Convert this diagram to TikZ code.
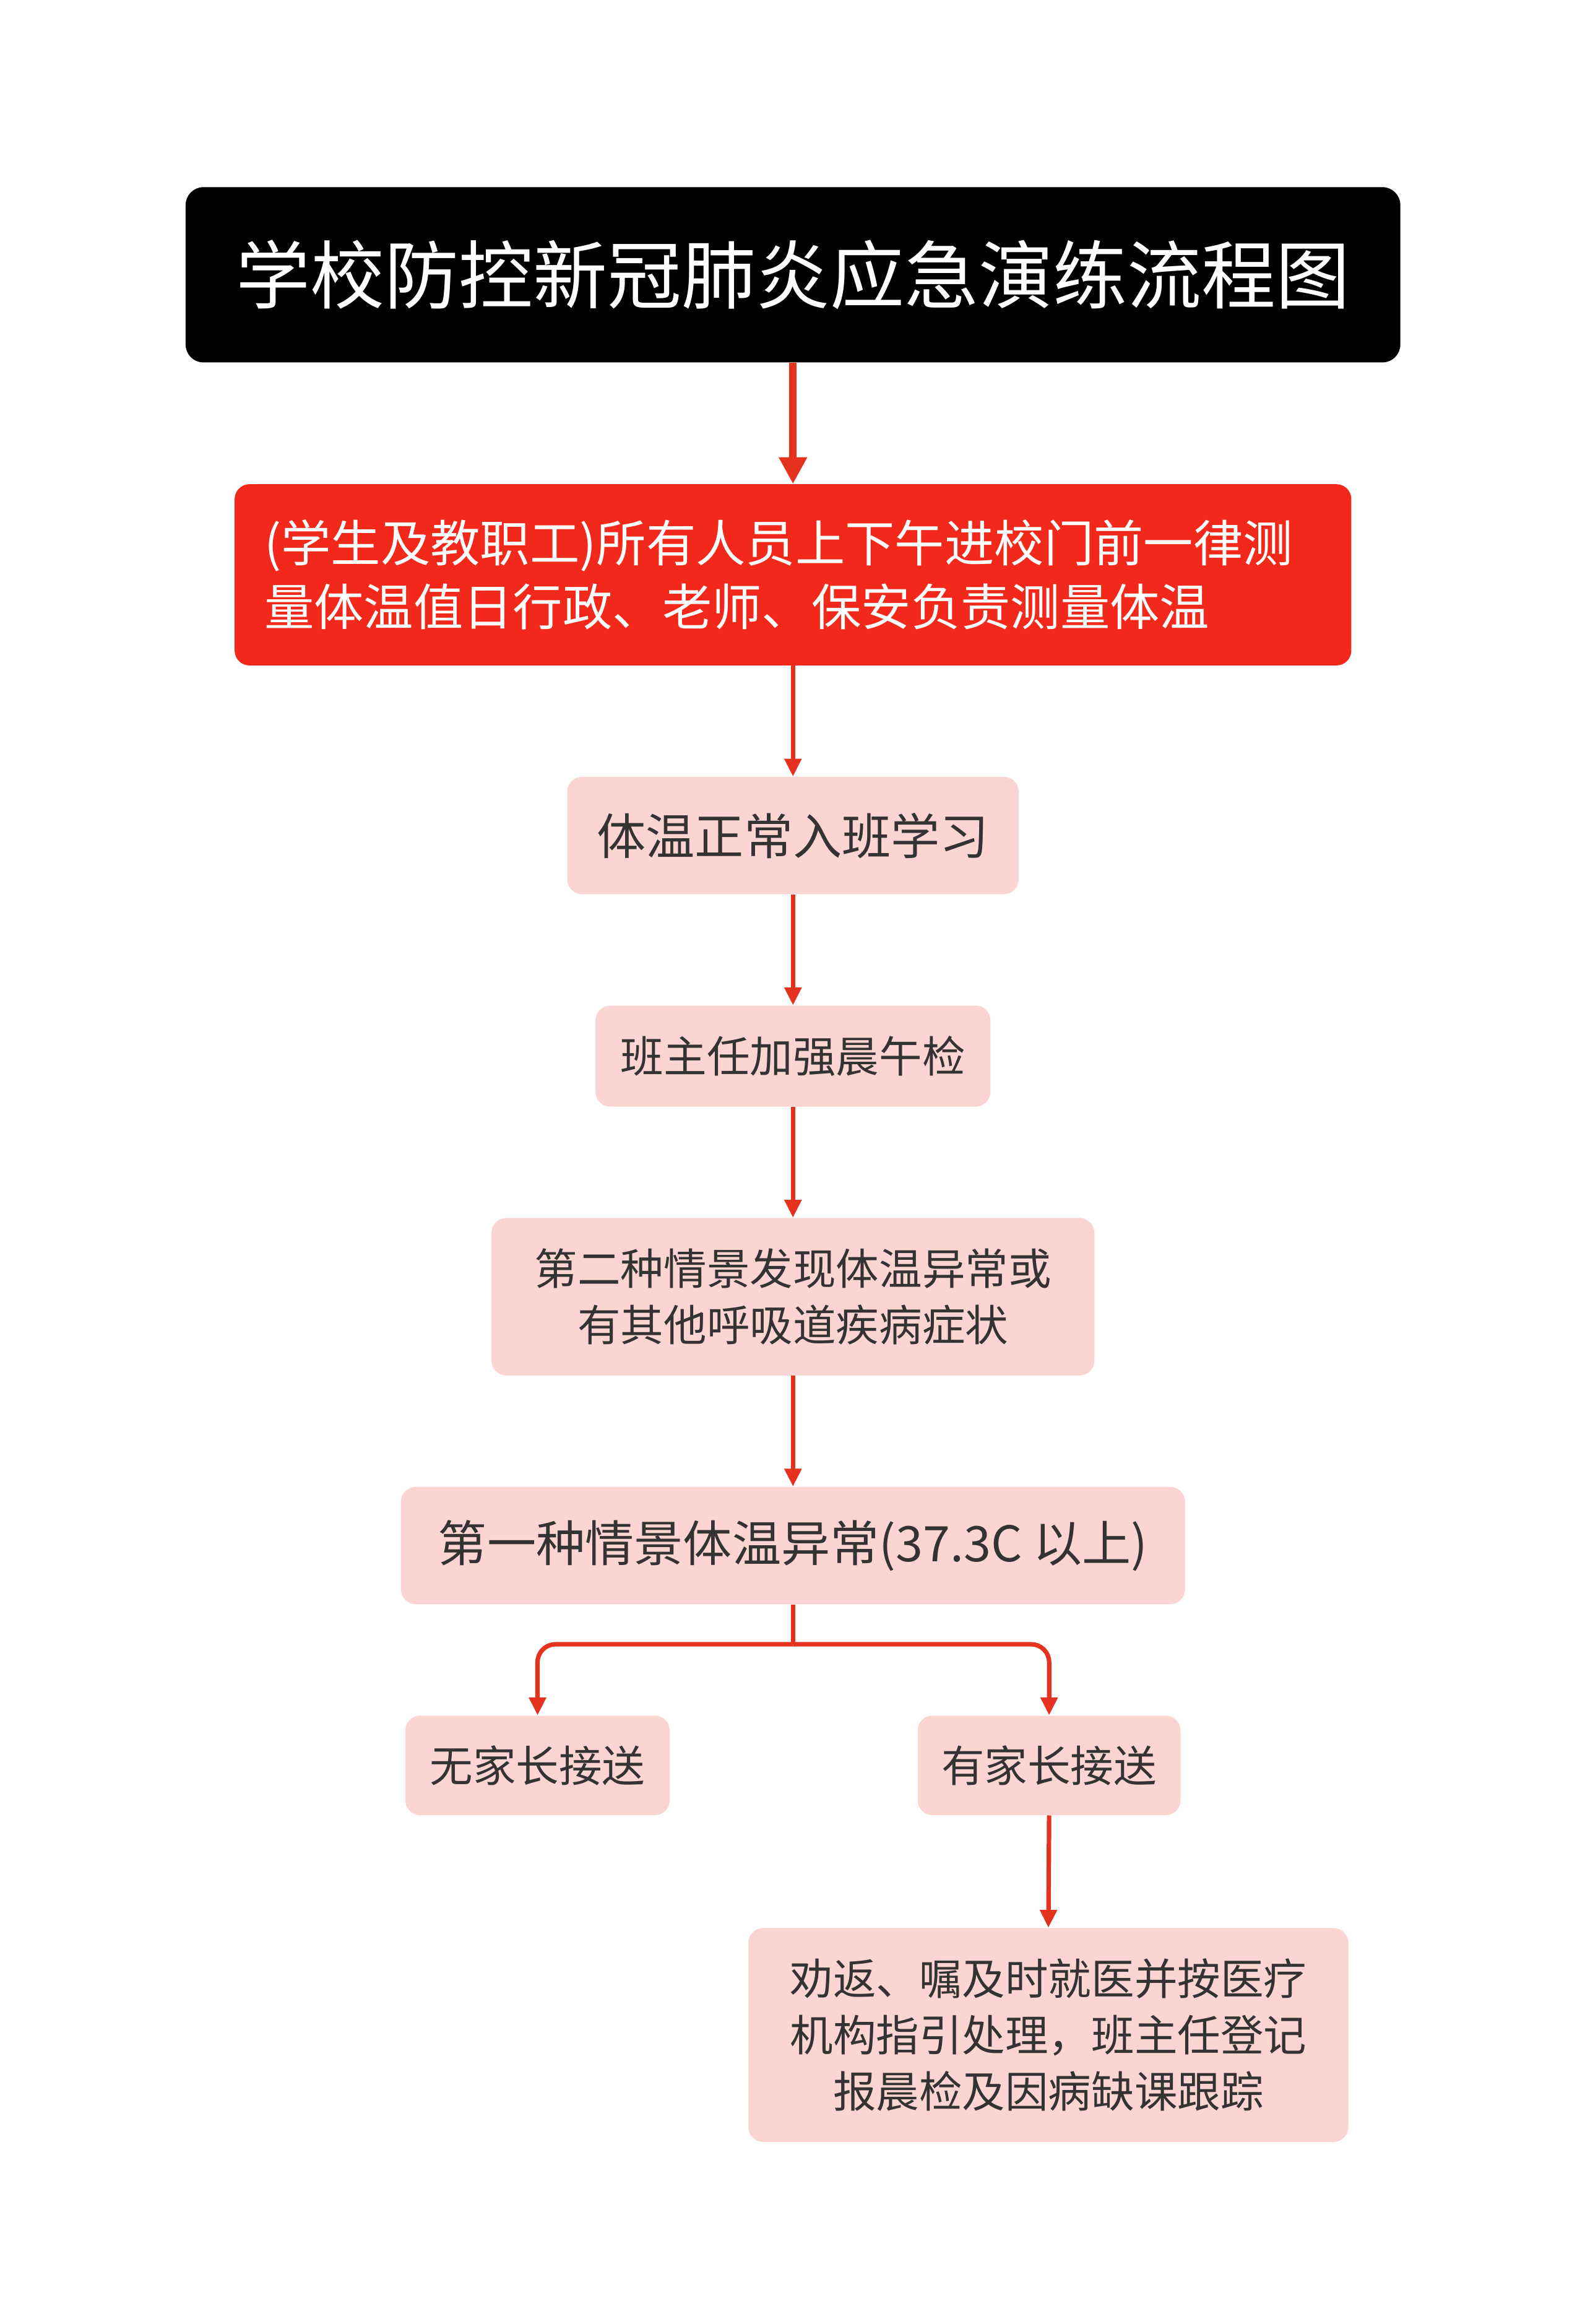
\documentclass[tikz,border=0pt]{standalone}
\usepackage{fontspec}
\setmainfont{Noto Sans CJK SC}
\usetikzlibrary{arrows.meta}
\definecolor{arr}{HTML}{E5321F}
\definecolor{pinkb}{HTML}{FCD4D1}
\definecolor{redb}{HTML}{F2291A}
\definecolor{txt}{HTML}{333333}
\tikzset{
  pbox/.style={fill=pinkb,rounded corners=10pt,text=txt,align=center,inner sep=0pt},
  conn/.style={draw=arr,line width=3pt,-{Triangle[length=12pt,width=11pt]}},
}
\begin{document}
\begin{tikzpicture}[x=1pt,y=-1pt]
\useasboundingbox[fill=white] (0,0) rectangle (1067,1564.6);
\node[fill=black,rounded corners=12pt,minimum width=818pt,minimum height=118pt,text=white,font=\fontsize{50}{56}\selectfont] (t) at (534,185) {学校防控新冠肺炎应急演练流程图};
\node[fill=redb,rounded corners=10pt,minimum width=752pt,minimum height=122pt,text=white,align=left,text width=712pt,font=\fontsize{33.5}{43}\selectfont] (r) at (534,387) {(学生及教职工)所有人员上下午进校门前一律测\\量体温值日行政、老师、保安负责测量体温};
\node[pbox,minimum width=304pt,minimum height=79pt,font=\fontsize{33}{40}\selectfont] (b1) at (534,562.5) {体温正常入班学习};
\node[pbox,minimum width=266pt,minimum height=68pt,font=\fontsize{29}{36}\selectfont] (b2) at (534,711) {班主任加强晨午检};
\node[pbox,minimum width=406pt,minimum height=106pt,font=\fontsize{29}{38}\selectfont] (b3) at (534,873) {第二种情景发现体温异常或\\有其他呼吸道疾病症状};
\node[pbox,minimum width=528pt,minimum height=79pt,font=\fontsize{33}{40}\selectfont] (b4) at (534,1040.5) {第一种情景体温异常(37.3C 以上)};
\node[pbox,minimum width=178pt,minimum height=67pt,font=\fontsize{29}{36}\selectfont] (b5) at (362,1188.5) {无家长接送};
\node[pbox,minimum width=177pt,minimum height=67pt,font=\fontsize{29}{36}\selectfont] (b6) at (706.5,1188.5) {有家长接送};
\node[pbox,minimum width=404pt,minimum height=144pt,font=\fontsize{29}{38}\selectfont] (b7) at (706,1370) {劝返、嘱及时就医并按医疗\\机构指引处理，班主任登记\\报晨检及因病缺课跟踪};
\draw[conn,line width=5pt,-{Triangle[length=18pt,width=18pt]}] (t.south) -- (r.north);
\draw[conn] (r.south) -- (b1.north);
\draw[conn] (b1.south) -- (b2.north);
\draw[conn] (b2.south) -- (b3.north);
\draw[conn] (b3.south) -- (b4.north);
\coordinate (m) at (534,1107);
\draw[draw=arr,line width=3pt] (b4.south) -- (m);
\draw[conn,rounded corners=12pt] (m) -| (b5.north);
\draw[conn,rounded corners=12pt] (m) -| (b6.north);
\draw[conn] (b6.south) -- (b7.north);
\end{tikzpicture}
\end{document}
